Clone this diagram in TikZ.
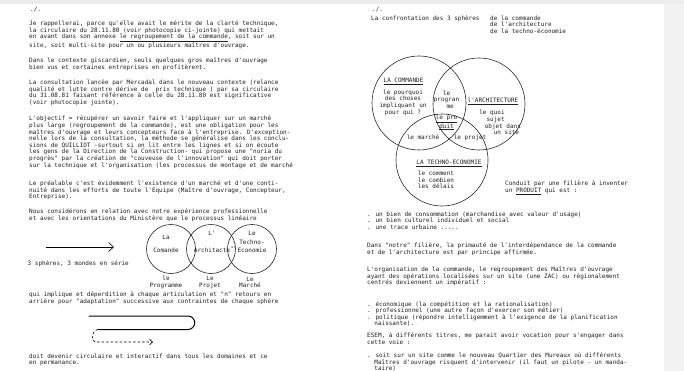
\documentclass[tikz,border=0pt]{standalone}
\usepackage{fontspec}
\newfontfamily\typewriter{DejaVu Sans Mono}
\usetikzlibrary{arrows.meta}
\tikzset{
  typed/.style={font={\typewriter\fontsize{6}{6.6}\selectfont}, inner sep=0pt, anchor=north west, align=left, text=black!88},
  venntext/.style={font={\typewriter\fontsize{6}{6.6}\selectfont}, inner sep=0pt, align=center, text=black!88},
  sphere/.style={draw=black!85, line width=0.6pt},
}
\newcommand\twosp{\hspace*{1.204em}}
\begin{document}
\begin{tikzpicture}[x=1pt,y=-1pt]
        \useasboundingbox (0,0) rectangle (684,371);
        \fill[gray!14] (0,0) rectangle (684,4);
        \fill[gray!10] (664,4) rectangle (684,371);

        \node[typed, anchor=west] (lpage) at (30,10) {./.};
        \node[typed] (lp1) at (29,20.5) {
            Je rappellerai, parce qu'elle avait le mérite de la clarté technique,\\
            la circulaire du 28.11.80 (voir photocopie ci-jointe) qui mettait\\
            en avant dans son annexe \underline{le regroupement de la commande}, soit sur un\\
            site, soit multi-site pour un ou plusieurs maîtres d'ouvrage.
        };
        \node[typed] (lp2) at (29,57.5) {
            Dans le contexte giscardien, seuls quelques gros maîtres d'ouvrage\\
            bien vus et certaines entreprises en profitèrent.
        };
        \node[typed] (lp3) at (29,79.5) {
            La consultation lancée par Mercadal dans le nouveau contexte (relance\\
            qualité et lutte contre dérive de\ \ prix technique ) par sa circulaire\\
            du 31.08.81 faisant référence à celle du 28.11.80 est significative\\
            (voir photocopie jointe).
        };
        \node[typed] (lp4) at (29,116) {
            L'objectif = récupérer un savoir faire et l'appliquer sur un marché\\
            plus large (regroupement de la commande), est une obligation pour les\\
            maîtres d'ouvrage et leurs concepteurs face à l'entreprise. D'exception-\\
            nelle lors de la consultation, la méthode se généralise dans les conclu-\\
            sions de QUILLIOT -surtout si on lit entre les lignes et si on écoute\\
            les gens de la Direction de la Construction- qui propose une "noria du\\
            progrès" par la création de "couveuse de l'innovation" qui doit porter\\
            sur la technique et l'organisation (les processus de montage et de marché
        };
        \node[typed] (lp5) at (29,180.5) {
            Le préalable c'est évidemment l'existence d'un marché et d'une conti-\\
            nuité dans les efforts de toute l'Equipe (Maître d'ouvrage, Concepteur,\\
            Entreprise).
        };
        \node[typed] (lp6) at (29,209) {
            Nous considérons en relation avec notre expérience professionnelle\\
            et avec les orientations du Ministère que le processus linéaire
        };

        \coordinate (arrstart) at (46,247);
        \coordinate (arrend) at (114,247);
        \draw[line width=0.6pt, -{Straight Barb[length=5pt,width=9pt]}] (arrstart) -- (arrend);
        \node[typed, anchor=west] (series) at (27.5,264) {3 sphères, 3 mondes en série};

        \draw[sphere] (171,249) circle (24.5pt);
        \draw[sphere] (211,249) circle (24.5pt);
        \draw[sphere] (252,249) circle (24.5pt);
        \node[venntext] (lcom) at (166,243.7) {La\\[6.9pt]Comande};
        \node[venntext] (larch) at (212,241.7) {L'\\[10.9pt]Architacte};
        \node[venntext, font={\typewriter\fontsize{3.5}{4}\selectfont}] (lur) at (233.5,247.5) {ur};
        \node[venntext] (ltech) at (252,242) {Le\\[2pt]Techno-\\[2pt]Economie};
        \node[venntext] (lprog) at (166,282.5) {le\\Programme};
        \node[venntext] (lproj) at (210,282.5) {Le\\Projet};
        \node[venntext] (lmarc) at (250,282.5) {Le\\Marché};

        \node[typed] (lp7) at (29,291.5) {
            qui implique et déperdition à chaque articulation et "n" retours en\\
            arrière pour "adaptation" successive aux contraintes de chaque sphère
        };

        \coordinate (loopa) at (89,316);
        \coordinate (loopb) at (188,316);
        \coordinate (loopc) at (188,329.5);
        \coordinate (loopd) at (98,329.5);
        \coordinate (loope) at (153,342);
        \draw[line width=1pt, line cap=round] (loopa) -- (loopb) arc[start angle=90, end angle=-90, radius=6.75pt] -- (loopd);
        \draw[line width=0.6pt, dash pattern=on 2.5pt off 2pt, -{Straight Barb[length=3pt,width=5.5pt]}]
            (loopd) .. controls (91,331) and (90,342) .. (97,342) -- (loope);

        \node[typed] (lp8) at (29,353.5) {
            doit devenir circulaire et interactif dans tous les domaines et ce\\
            en permanance.
        };

        \node[typed, anchor=west] (rpage) at (372,10) {./.};
        \node[typed] (rconf) at (371,15.3) {La confrontation des 3 sphères};
        \node[typed] (rthree) at (490,15.3) {de la commande\\de l'architecture\\de la techno-économie};

        \draw[sphere] (419,103) circle (47pt);
        \draw[sphere] (479,104) circle (46pt);
        \draw[sphere] (442,160) circle (46pt);
        \node[venntext] (vcom) at (403.5,81.7) {\underline{LA COMMANDE}};
        \node[venntext] (vwhy) at (403,102.5) {le pourquoi\\des choses\\impliquant un\\pour qui ?};
        \node[venntext] (vprog) at (446.5,99.5) {le\\progran\\\ \ me};
        \node[venntext] (varch) at (493,101) {\underline{l'ARCHITECTURE}};
        \node[venntext] (vwhat) at (492,122.5) {le quoi\\\ \ sujet\\\ \ \ \ \ \ objet dans\\\ \ \ \ \ \ \ \ un site};
        \node[venntext] (vprod) at (446.5,122.5) {\underline{le pro}\\\underline{duit}};
        \node[venntext] (vmarc) at (423,137.5) {le marché};
        \node[venntext] (vproj) at (470,138.3) {le projet};
        \node[venntext] (vtech) at (449,163.3) {\underline{LA TECHNO-ECONOMIE}};
        \node[venntext, align=left] (vhow) at (436,180) {le comment\\le combien\\les délais};

        \node[typed] (rprod) at (505,181) {Conduit par une filière à inventer\\un \underline{PRODUIT} qui est :};

        \node[typed] (rp1) at (367,211.5) {
            . un bien de consommation (marchandise avec valeur d'usage)\\
            . un bien culturel individuel et social\\
            . une trace urbaine .....
        };
        \node[typed] (rp2) at (367,242.5) {
            Dans "notre" filière, la primauté de l'interdépendance de la commande\\
            et de l'architecture est par principe affirmée.
        };
        \node[typed] (rp3) at (367,266.5) {
            L'organisation de la commande, le regroupement des Maîtres d'ouvrage\\
            ayant des opérations localisées sur un site (une ZAC) ou régionalement\\
            centrés deviennent un impératif :
        };
        \node[typed] (rp4) at (367,301) {
            . économique (la compétition et la rationalisation)\\
            . professionnel (une autre façon d'exercer son métier)\\
            . politique (répondre intelligemment à l'exigence de la planification\\
            \twosp naissante).
        };
        \node[typed] (rp5) at (367,332.5) {
            ESEM, à différents titres, me parait avoir vocation pour s'engager dans\\
            cette voie :
        };
        \node[typed] (rp6) at (367,352.5) {
            . soit sur un site comme le nouveau Quartier des Mureaux où différents\\
            \twosp Maîtres d'ouvrage risquent d'intervenir (il faut un pilote - un manda-\\
            \twosp taire)
        };
    \end{tikzpicture}
\end{document}
